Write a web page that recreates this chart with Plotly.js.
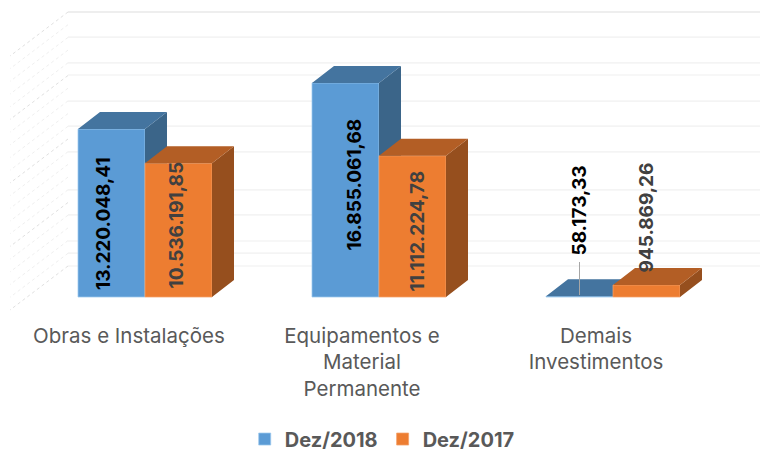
<!DOCTYPE html>
<html>
<head>
<meta charset="utf-8">
<script src="https://cdn.plot.ly/plotly-3.0.1.min.js"></script>
<style>html,body{margin:0;padding:0;background:#fff}#c{width:760px;height:452px}</style>
</head>
<body>
<div id="c"></div>
<script>
// ---- data
var categories = ['Obras e Instalações', 'Equipamentos e<br>Material<br>Permanente', 'Demais<br>Investimentos'];
var seriesNames = ['Dez/2018', 'Dez/2017'];
var dez2018 = [13220048.41, 16855061.68, 58173.33];
var dez2017 = [10536191.85, 11112224.78, 945869.26];
var labels2018 = ['13.220.048,41', '16.855.061,68', '58.173,33'];
var labels2017 = ['10.536.191,85', '11.112.224,78', '945.869,26'];
// horizontal wall lines, in axis units (millions)
var wallLines = [2.44, 3.46, 4.41, 6.46, 8.43, 11.42, 13.46, 15.43, 17.48, 18.43, 20.47, 22.44];
// dotted lines of the side wall, in axis units (millions)
var sideLines = [2.44, 3.44, 4.44, 5.44, 6.44, 7.44, 8.44, 9.44, 10.44, 11.44, 12.44, 13.44, 14.44, 15.44, 16.44, 17.44, 18.44, 19.44, 20.44, 21.44, 22.44];
var sideLinesStrong = [2.44, 7.44, 12.44, 17.44, 22.44];

// ---- scale of the drawing (pixels of the frame -> axis units)
var pxPerGroup = 234, pxCenter0 = 145, pxBase = 297, pxPerMillion = 12.7;
function pxX(p) { return (p - pxCenter0) / pxPerGroup; }
function pxY(p) { return (pxBase - p) / pxPerMillion * 1e6; }
var barW = 67 / pxPerGroup;
var depthX = 22 / pxPerGroup;
var depthY = 17 / pxPerMillion * 1e6;

function faces(values, left) {
  var top = {x: [], y: []}, side = {x: [], y: []};
  values.forEach(function (v, i) {
    var x0 = i + left, x1 = x0 + barW;
    top.x.push(x0, x0 + depthX, x1 + depthX, x1, x0, null);
    top.y.push(v, v + depthY, v + depthY, v, v, null);
    side.x.push(x1, x1 + depthX, x1 + depthX, x1, x1, null);
    side.y.push(0, depthY, v + depthY, v, 0, null);
  });
  return {top: top, side: side};
}
function face(f, color, xa, ya) {
  return {type: 'scatter', mode: 'lines', x: f.x, y: f.y, fill: 'toself', fillcolor: color,
    line: {width: 0, color: color}, showlegend: false, hoverinfo: 'skip', xaxis: xa, yaxis: ya};
}
function bars(values, name, color, edge, left, xa, ya) {
  return {type: 'bar', name: name, x: categories.map(function (c, i) { return i; }), y: values,
    width: barW, offset: left, marker: {color: color, line: {color: edge, width: 0.75}},
    hoverinfo: 'y+name', xaxis: xa, yaxis: ya};
}
var f18 = faces(dez2018, -barW), f17 = faces(dez2017, 0);
var traces = [
  bars(dez2018, seriesNames[0], '#5b9bd5', '#9cc8ee', -barW, 'x', 'y'),
  face(f18.side, '#3b6589', 'x', 'y'),
  face(f18.top, '#44749f', 'x', 'y'),
  bars(dez2017, seriesNames[1], '#ed7d31', '#f4a26a', 0, 'x2', 'y2'),
  face(f17.side, '#964f1e', 'x2', 'y2'),
  face(f17.top, '#b35e25', 'x2', 'y2')
];

// ---- walls
var shapes = [];
wallLines.forEach(function (v) {
  shapes.push({type: 'line', layer: 'below', xref: 'x', yref: 'y', x0: pxX(68), x1: pxX(760), y0: v * 1e6, y1: v * 1e6,
    line: {color: v > 22 ? '#e9e9e9' : '#f0f0f0', width: v > 22 ? 1.6 : 1.2}});
});
sideLines.forEach(function (v) {
  var strong = sideLinesStrong.indexOf(v) >= 0;
  shapes.push({type: 'line', layer: 'below', xref: 'x', yref: 'y', x0: pxX(68), x1: pxX(10), y0: v * 1e6, y1: v * 1e6 - 44 / pxPerMillion * 1e6,
    line: {color: strong ? '#e0e0e0' : '#efefef', width: 1, dash: 'dot'}});
});
// leader of the third label
shapes.push({type: 'line', layer: 'above', xref: 'x', yref: 'y', x0: pxX(579.5), x1: pxX(579.5), y0: pxY(262), y1: pxY(295),
  line: {color: '#a6a6a6', width: 1}});

// ---- value labels
var labelFont = 'Inter, "DejaVu Sans", sans-serif';
function lab(text, px, py, color) {
  return {text: text, x: pxX(px), y: pxY(py), xref: 'x', yref: 'y', showarrow: false, textangle: -90,
    xanchor: 'center', yanchor: 'middle', font: {family: labelFont, size: 19, color: color, weight: 700}};
}
var labelPlaces18 = [[103.5, 223.5], [353.5, 185], [578.5, 211]];
var labelPlaces17 = [[175.5, 225], [416.5, 231], [645.5, 218]];
var annotations = [];
labels2018.forEach(function (t, i) { annotations.push(lab(t, labelPlaces18[i][0], labelPlaces18[i][1], '#000000')); });
labels2017.forEach(function (t, i) { annotations.push(lab(t, labelPlaces17[i][0], labelPlaces17[i][1], '#404040')); });

var xr = [pxX(0), pxX(760)], yr = [pxY(320), pxY(0)];
var layout = {
  width: 760, height: 452,
  margin: {l: 0, r: 0, t: 0, b: 132, pad: 0, autoexpand: false},
  paper_bgcolor: '#ffffff', plot_bgcolor: 'rgba(0,0,0,0)',
  showlegend: true,
  legend: {orientation: 'h', x: 0.322, xanchor: 'left', y: -0.372, yanchor: 'middle',
    font: {family: labelFont, size: 20, color: '#595959', weight: 700}, traceorder: 'normal'},
  xaxis: {range: xr, tickmode: 'array', tickvals: [pxX(129), pxX(362), pxX(596)], ticktext: categories,
    showgrid: false, zeroline: false, showline: false, ticks: '', tickangle: 0, automargin: false,
    ticklabelstandoff: 1,
    tickfont: {family: labelFont, size: 20.5, color: '#595959'}},
  yaxis: {range: yr, showgrid: false, zeroline: false, showline: false, showticklabels: false, ticks: ''},
  xaxis2: {range: xr, overlaying: 'x', visible: false},
  yaxis2: {range: yr, overlaying: 'y', visible: false},
  shapes: shapes,
  annotations: annotations
};
Plotly.newPlot('c', traces, layout, {displayModeBar: false, responsive: false});
</script>
</body>
</html>
